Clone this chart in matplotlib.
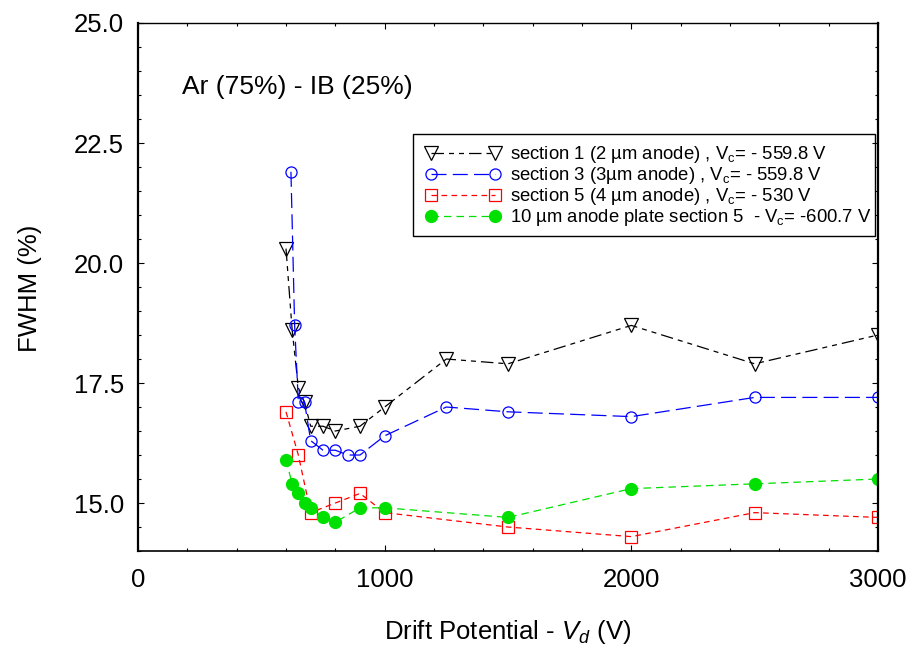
import matplotlib
matplotlib.use("Agg")
import matplotlib.pyplot as plt
from matplotlib.patches import Rectangle
from matplotlib.ticker import MultipleLocator, FormatStrFormatter

plt.rcParams['font.family'] = ['Liberation Sans', 'DejaVu Sans']
plt.rcParams['mathtext.fontset'] = 'custom'
plt.rcParams['mathtext.rm'] = 'Liberation Sans'
plt.rcParams['mathtext.it'] = 'Liberation Sans:italic'

# ---- data ----
s1_x = [600, 625, 650, 675, 700, 750, 800, 900, 1000, 1250, 1500, 2000, 2500, 3000]
s1_y = [20.3, 18.6, 17.4, 17.1, 16.6, 16.6, 16.5, 16.6, 17.0, 18.0, 17.9, 18.7, 17.9, 18.5]

s3_x = [620, 635, 650, 675, 700, 750, 800, 850, 900, 1000, 1250, 1500, 2000, 2500, 3000]
s3_y = [21.9, 18.7, 17.1, 17.1, 16.3, 16.1, 16.1, 16.0, 16.0, 16.4, 17.0, 16.9, 16.8, 17.2, 17.2]

s5_x = [600, 650, 700, 800, 900, 1000, 1500, 2000, 2500, 3000]
s5_y = [16.9, 16.0, 14.8, 15.0, 15.2, 14.8, 14.5, 14.3, 14.8, 14.7]

pl_x = [600, 625, 650, 675, 700, 750, 800, 900, 1000, 1500, 2000, 2500, 3000]
pl_y = [15.9, 15.4, 15.2, 15.0, 14.9, 14.7, 14.6, 14.9, 14.9, 14.7, 15.3, 15.4, 15.5]

labels = [
    r'section 1 (2 µm anode) , V$_{\mathrm{c}}$= - 559.8 V',
    r'section 3 (3µm anode) , V$_{\mathrm{c}}$= - 559.8 V',
    r'section 5 (4 µm anode) , V$_{\mathrm{c}}$= - 530 V',
    r'10 µm anode plate section 5  - V$_{\mathrm{c}}$= -600.7 V',
]

fig = plt.figure(figsize=(9.14, 6.57), dpi=100)
ax = fig.add_axes([0.151, 0.1613, 0.8096, 0.8037])

ax.plot(s1_x, s1_y, color='black', lw=0.9, ls=(0, (10, 4, 4, 4, 4, 4)),
        marker='v', ms=9.5, mfc='none', mec='black', mew=0.9, label=labels[0])
ax.plot(s3_x, s3_y, color='#0000ff', lw=0.9, ls=(0, (12, 5)),
        marker='o', ms=8, mfc='none', mec='#0000ff', mew=0.9, label=labels[1])
ax.plot(s5_x, s5_y, color='#ff0000', lw=0.9, ls=(0, (4.5, 3.5)),
        marker='s', ms=8, mfc='none', mec='#ff0000', mew=0.9, label=labels[2])
ax.plot(pl_x, pl_y, color='#00e000', lw=0.9, ls=(0, (6, 4)),
        marker='o', ms=8.5, mfc='#00e000', mec='#00e000', label=labels[3])

ax.set_xlim(0, 3000)
ax.set_ylim(14.0, 25.0)
ax.xaxis.set_major_locator(MultipleLocator(1000))
ax.xaxis.set_minor_locator(MultipleLocator(200))
ax.yaxis.set_major_locator(MultipleLocator(2.5))
ax.yaxis.set_minor_locator(MultipleLocator(0.5))
ax.yaxis.set_major_formatter(FormatStrFormatter('%.1f'))
ax.tick_params(which='both', direction='in', top=True, right=True,
               labelsize=18.5, width=0.8)
ax.tick_params(axis='x', which='major', length=4, pad=12)
ax.tick_params(axis='y', which='major', length=4, pad=10)
ax.tick_params(which='minor', length=2.5)

ax.spines['left'].set_linewidth(1.6)
ax.spines['right'].set_linewidth(1.6)
ax.spines['top'].set_linewidth(1.0)
ax.spines['bottom'].set_linewidth(1.2)

ax.set_xlabel(r'Drift Potential - $V_d$ (V)', fontsize=18.5, labelpad=19)
fig.text(30 / 914, 1 - 288 / 657, 'FWHM (%)', fontsize=18.5, rotation=90,
         ha='center', va='center')

ax.text(0.0595, 0.879, 'Ar (75%) - IB (25%)', transform=ax.transAxes,
        fontsize=19, ha='left', va='center')

# legend without its own frame; the box is wider than the text, as in the original
leg = ax.legend(loc='upper left', bbox_to_anchor=(0.3716, 0.7936),
                borderaxespad=0, fontsize=13.3, numpoints=2, handlelength=4.1,
                handletextpad=0.5, labelspacing=0.0, borderpad=0.65,
                frameon=False)
ax.add_patch(Rectangle((0.3716, 0.5966), 0.6244, 0.1932, transform=ax.transAxes,
                       fill=False, edgecolor='black', lw=1.0, zorder=5))

fig.savefig('out.png', dpi=100)
